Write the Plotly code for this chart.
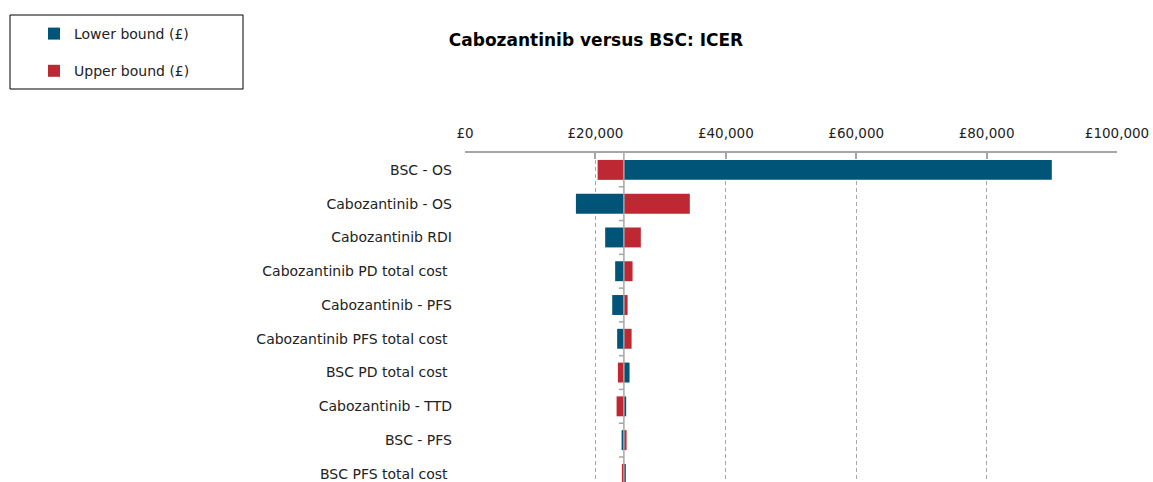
import plotly.graph_objects as go

# ---- data ---------------------------------------------------------------
parameters = [
    "BSC - OS",
    "Cabozantinib - OS",
    "Cabozantinib RDI",
    "Cabozantinib PD total cost\u00a0",
    "Cabozantinib - PFS",
    "Cabozantinib PFS total cost\u00a0",
    "BSC PD total cost\u00a0",
    "Cabozantinib - TTD",
    "BSC - PFS",
    "BSC PFS total cost\u00a0",
]
lower_bound = [90000, 17010, 21500, 23030, 22580, 23340, 25240, 24720, 24020, 24670]
upper_bound = [20340, 34480, 26970, 25700, 24940, 25550, 23450, 23250, 24780, 24060]
base_icer = 24370

x_tickvals = [0, 20000, 40000, 60000, 80000, 100000]
x_ticktext = ["£0", "£20,000", "£40,000", "£60,000", "£80,000", "£100,000"]

# ---- page geometry ------------------------------------------------------
W, H = 1153, 482
ML, MR, MT, MB = 465, 36, 153, 0
PW, PH = W - ML - MR, H - MT - MB

def px_x(p):
    return (p - ML) / PW

def px_y(p):
    return (H - MB - p) / PH

BLUE = "#005477"
RED = "#be2832"
GRID = "#a6a6a6"
TEXT = "#222222"
FONT = "DejaVu Sans"

fig = go.Figure()
fig.add_trace(go.Bar(
    y=parameters, x=[v - base_icer for v in lower_bound], base=base_icer,
    orientation="h", name="Lower bound (£)", marker=dict(color=BLUE, line=dict(width=0)),
    width=0.59, legendgroup="lo",
))
fig.add_trace(go.Bar(
    y=parameters, x=[v - base_icer for v in upper_bound], base=base_icer,
    orientation="h", name="Upper bound (£)", marker=dict(color=RED, line=dict(width=0)),
    width=0.59, legendgroup="hi",
))

n = len(parameters)
y_bottom = n - 1 + 0.24

# vertical axis through the base-case ICER
shapes = [dict(type="line", xref="x", yref="paper", x0=base_icer, x1=base_icer,
               y0=0, y1=1, line=dict(color=GRID, width=1.5), layer="above")]
# tick marks between categories on that axis
for i in range(n):
    shapes.append(dict(type="line", xref="x", yref="y", xsizemode="pixel",
                       xanchor=base_icer, x0=-5, x1=0, y0=i + 0.5, y1=i + 0.5,
                       line=dict(color=GRID, width=1.5), layer="above"))
# legend frame
shapes.append(dict(type="rect", xref="paper", yref="paper",
                   x0=px_x(10), x1=px_x(243), y0=px_y(89), y1=px_y(15),
                   line=dict(color="#000000", width=1)))

fig.update_layout(
    width=W, height=H,
    margin=dict(l=ML, r=MR, t=MT, b=MB, autoexpand=False),
    paper_bgcolor="white", plot_bgcolor="white",
    barmode="overlay",
    font=dict(family=FONT, size=14, color=TEXT),
    title=dict(text="<b>Cabozantinib versus BSC: ICER</b>", x=596 / W, xref="container",
               xanchor="center", y=1 - 40 / H, yref="container", yanchor="middle",
               font=dict(family=FONT, size=17, color="#000000")),
    xaxis=dict(side="top", range=[0, 100000], tickvals=x_tickvals, ticktext=x_ticktext,
               showline=True, linecolor=GRID, linewidth=1.5, ticks="inside", ticklen=6,
               tickcolor=GRID, tickwidth=1.5, showgrid=True, gridcolor=GRID, gridwidth=1,
               griddash="4px,3px", zeroline=False, ticklabelstandoff=8,
               tickfont=dict(size=13.5, color=TEXT)),
    yaxis=dict(type="category", categoryorder="array", categoryarray=parameters,
               range=[y_bottom, -0.5], showgrid=False, zeroline=False, showline=False,
               ticks="", ticklabelstandoff=12, tickfont=dict(size=14, color=TEXT)),
    showlegend=True,
    legend=dict(x=px_x(34), y=px_y(18), xanchor="left", yanchor="top",
                traceorder="grouped", tracegroupgap=16, bgcolor="rgba(0,0,0,0)",
                borderwidth=0, font=dict(family=FONT, size=14, color=TEXT)),
    shapes=shapes,
)

fig.write_html("out.html")
